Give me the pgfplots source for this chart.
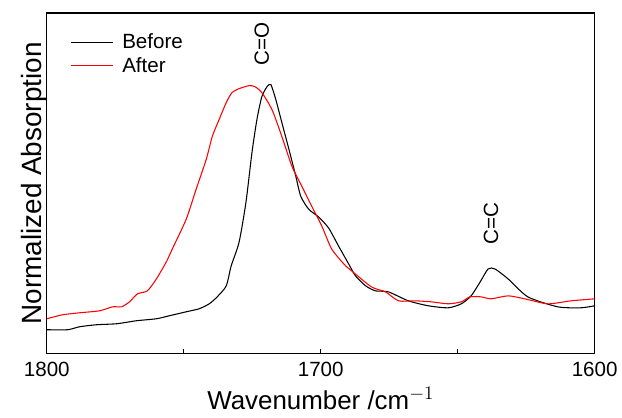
\documentclass[border=0pt]{standalone}
\usepackage{pgfplots}
\pgfplotsset{compat=1.18}
\usepackage{fontspec}
\setmainfont{Liberation Sans}

\pgfplotstableread{
w       a
1800    23
1792.4  23
1788.0  26
1781.8  28
1774.5  29
1767.3  32
1760.0  34
1755.3  37
1749.1  41
1744.4  44
1740.7  49
1737.8  56
1734.5  67
1732.7  87
1729.8  111
1727.3  151
1725.1  201
1723.3  234
1721.5  257
1719.6  267
1718.2  269
1716.4  254
1714.2  231
1711.6  204
1709.1  177
1707.3  157
1704.4  144
1700.7  136
1697.1  125
1693.5  107
1689.8  89
1687.3  77
1683.6  67
1680.0  62
1675.3  61
1668.0  52
1660.7  47
1653.5  45
1648.7  49
1645.1  57
1641.8  71
1638.9  84
1636.4  84
1631.6  74
1624.4  56
1613.5  46
1605.1  45
1600    47
}\before

\pgfplotstableread{
w       a
1800    34
1794.2  38
1788.0  40
1780.7  42
1776.0  46
1772.7  46
1769.8  51
1766.9  59
1763.3  62
1760.0  74
1756.4  91
1754.2  104
1749.1  134
1745.5  164
1741.8  194
1739.6  217
1737.1  234
1734.5  251
1732.4  261
1729.8  265
1726.2  268
1724.0  267
1721.5  261
1717.8  244
1714.2  217
1710.5  187
1706.9  167
1703.3  147
1699.6  127
1696.0  104
1690.9  87
1688.7  82
1681.5  66
1676.4  61
1671.6  52
1665.5  52
1659.6  51
1653.5  49
1648.7  51
1645.5  56
1641.5  56
1637.8  54
1631.6  57
1625.5  54
1617.1  49
1608.7  52
1600    54
}\after

\begin{document}
\begin{tikzpicture}
\begin{axis}[
    at={(0pt,0pt)}, anchor=south west,
    scale only axis,
    width=412.5pt, height=256.5pt,
    x dir=reverse,
    xmin=1600, xmax=1800,
    ymin=-1, ymax=341,
    xtick={1600,1700,1800},
    minor xtick={1650,1750},
    xticklabels={1600,1700,1800},
    ytick=\empty,
    xtick pos=bottom,
    tick align=inside,
    major tick length=3.5pt,
    minor tick length=3.5pt,
    axis line style={line width=1pt},
    every tick/.style={black, line width=0.8pt},
    tick label style={font=\fontsize{15.5}{18}\selectfont},
    xticklabel style={yshift=-3pt},
    xlabel={Wavenumber /cm$^{-1}$},
    ylabel={Normalized Absorption},
    xlabel style={font=\fontsize{19.5}{22}\selectfont, yshift=-1pt},
    ylabel style={font=\fontsize{21}{24}\selectfont, yshift=-4pt},
    legend style={draw=none, fill=none, at={(0.035,0.955)}, anchor=north west,
        font=\fontsize{15.5}{18}\selectfont, row sep=1pt},
    legend cell align=left,
    legend image code/.code={\draw[#1] (0cm,0cm) -- (1.12cm,0cm); \path (1.12cm+4.5pt,0cm);},
]
\addplot[black, line width=0.8pt, smooth, tension=0.4] table[x=w, y=a] {\before};
\addlegendentry{Before}
\addplot[red, line width=0.8pt, smooth, tension=0.4] table[x=w, y=a] {\after};
\addlegendentry{After}
\node[rotate=90, font=\fontsize{15.5}{18}\selectfont] at (axis cs:1721.5,310) {C=O};
\node[rotate=90, font=\fontsize{15.5}{18}\selectfont] at (axis cs:1637.8,130) {C=C};
\end{axis}
\path[use as bounding box] (-35.25pt,-48pt) rectangle (431.25pt,266.25pt);
\end{tikzpicture}
\end{document}
